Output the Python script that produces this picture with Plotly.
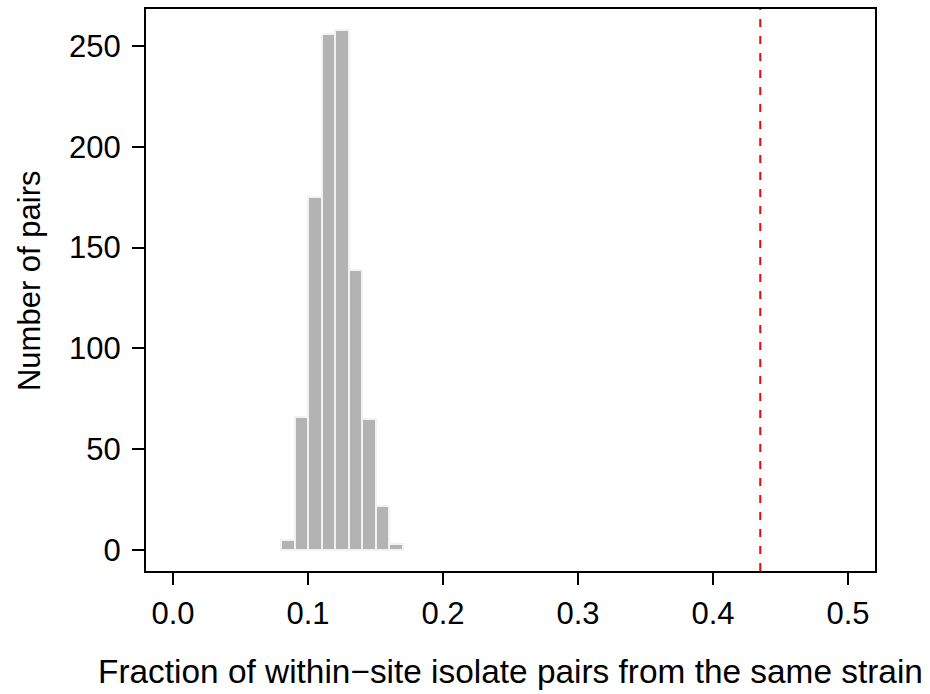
import plotly.graph_objects as go

bin_centers = [0.085, 0.095, 0.105, 0.115, 0.125, 0.135, 0.145, 0.155, 0.165]
counts = [5, 66, 175, 256, 258, 139, 65, 22, 3]
observed_fraction = 0.435
x_ticks = [0.0, 0.1, 0.2, 0.3, 0.4, 0.5]
y_ticks = [0, 50, 100, 150, 200, 250]

FONT = "Liberation Sans, Arial, Helvetica, sans-serif"

fig = go.Figure()
fig.add_trace(go.Bar(
    x=bin_centers, y=counts, width=0.01,
    marker=dict(color="#B3B3B3", line=dict(color="#F2F2F2", width=2)),
    hoverinfo="x+y",
))

fig.add_shape(type="line", xref="x", yref="paper",
              x0=observed_fraction, x1=observed_fraction, y0=0, y1=1,
              line=dict(color="#FF0000", width=2, dash="8px,9px"))

axis_common = dict(showline=True, linecolor="black", linewidth=2, mirror=True,
                   ticks="outside", ticklen=12, tickwidth=2, tickcolor="black",
                   showgrid=False, zeroline=False,
                   tickfont=dict(family=FONT, size=31, color="black"))

fig.update_xaxes(range=[-0.02, 0.52], tickvals=x_ticks,
                 ticktext=[f"{v:.1f}" for v in x_ticks],
                 ticklabelstandoff=2, **axis_common)
fig.update_yaxes(range=[-10.32, 268.32], tickvals=y_ticks,
                 ticktext=[str(v) for v in y_ticks],
                 ticklabelstandoff=5, **axis_common)

fig.add_annotation(text="Fraction of within\u2212site isolate pairs from the same strain",
                   xref="paper", yref="paper", x=0.5, y=(571 - 672) / 564,
                   xanchor="center", yanchor="middle", showarrow=False,
                   font=dict(family=FONT, size=33.4, color="black"))
fig.add_annotation(text="Number of pairs",
                   xref="paper", yref="paper", x=(29 - 146) / 729, y=(571 - 280) / 564,
                   xanchor="center", yanchor="middle", textangle=-90, showarrow=False,
                   font=dict(family=FONT, size=31, color="black"))

fig.update_layout(width=930, height=694,
                  margin=dict(l=146, r=55, t=7, b=123),
                  plot_bgcolor="white", paper_bgcolor="white",
                  showlegend=False, bargap=0)

fig.write_html("out.html")
